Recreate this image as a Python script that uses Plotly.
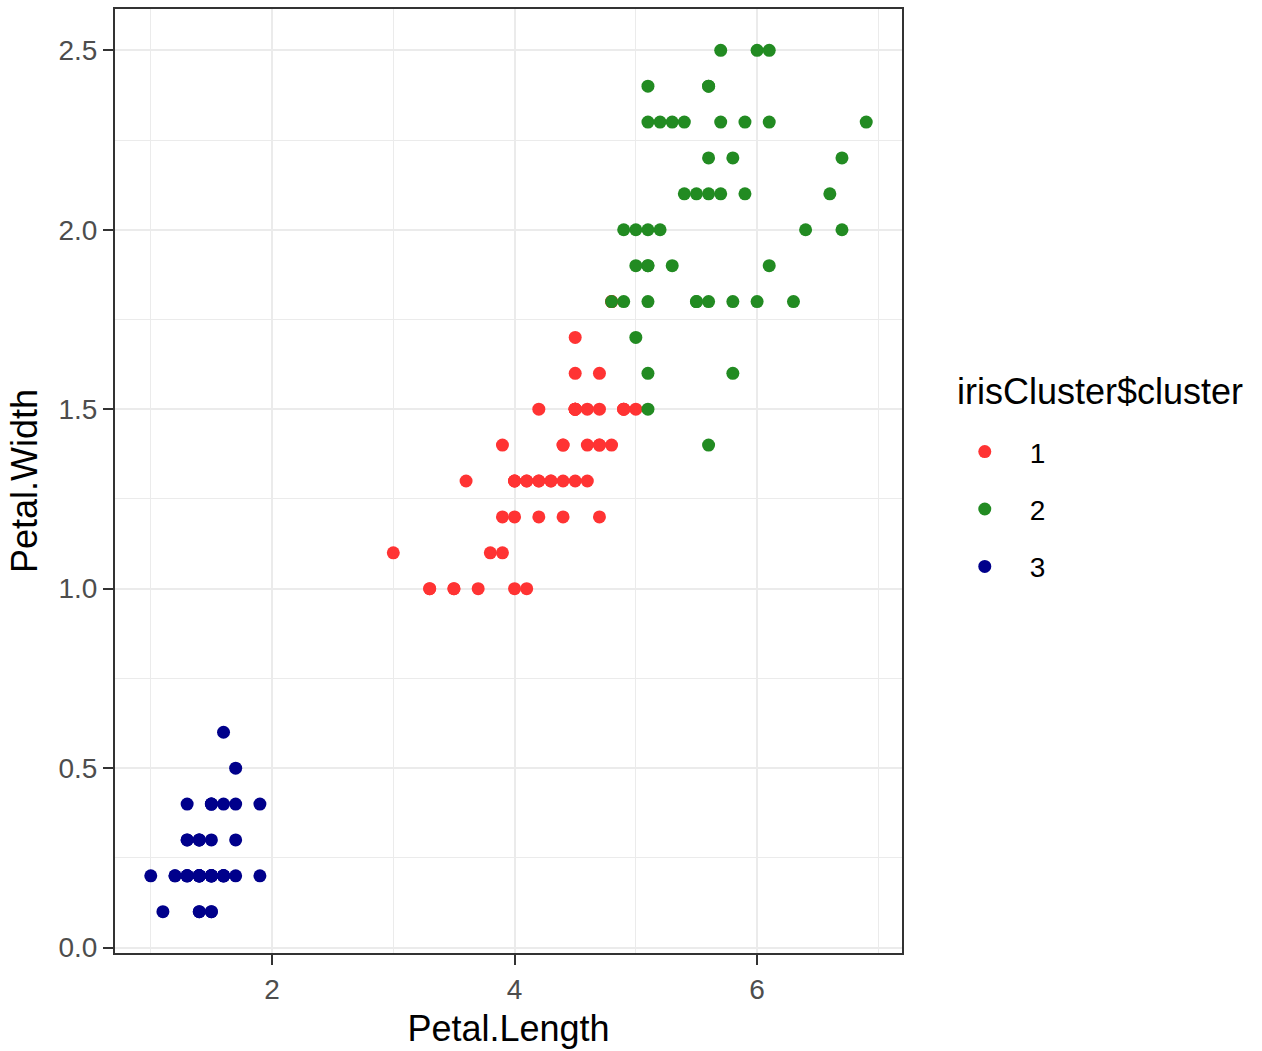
import plotly.graph_objects as go

# Cluster 1 (red)
c1_len = [4.7,4.5,4.9,4.0,4.6,4.5,4.7,3.3,4.6,3.9,3.5,4.2,4.0,4.7,3.6,4.4,4.5,4.1,4.5,3.9,
          4.8,4.0,4.9,4.7,4.3,4.4,4.8,4.5,3.5,3.8,3.7,3.9,4.5,4.5,4.7,4.4,4.1,4.0,4.4,4.6,
          4.0,3.3,4.2,4.2,4.2,4.3,3.0,4.1,4.5,5.0,4.8,4.9]
c1_wid = [1.4,1.5,1.5,1.3,1.5,1.3,1.6,1.0,1.3,1.4,1.0,1.5,1.0,1.4,1.3,1.4,1.5,1.0,1.5,1.1,
          1.8,1.3,1.5,1.2,1.3,1.4,1.4,1.5,1.0,1.1,1.0,1.2,1.5,1.6,1.5,1.3,1.3,1.3,1.2,1.4,
          1.2,1.0,1.3,1.2,1.3,1.3,1.1,1.3,1.7,1.5,1.8,1.5]
# Cluster 2 (green)
c2_len = [5.0,5.1,6.0,5.1,5.9,5.6,5.8,6.6,6.3,5.8,6.1,5.1,5.3,5.5,5.0,5.1,5.3,5.5,6.7,6.9,
          5.7,4.9,6.7,4.9,5.7,6.0,5.6,5.8,6.1,6.4,5.6,5.1,5.6,6.1,5.6,5.5,4.8,5.4,5.6,5.1,
          5.1,5.9,5.7,5.2,5.0,5.2,5.4,5.1]
c2_wid = [1.7,1.6,2.5,1.9,2.1,1.8,2.2,2.1,1.8,1.8,2.5,2.0,1.9,2.1,2.0,2.4,2.3,1.8,2.2,2.3,
          2.3,2.0,2.0,1.8,2.1,1.8,2.1,1.6,1.9,2.0,2.2,1.5,1.4,2.3,2.4,1.8,1.8,2.1,2.4,2.3,
          1.9,2.3,2.5,2.3,1.9,2.0,2.3,1.8]
# Cluster 3 (blue)
c3_len = [1.4,1.4,1.3,1.5,1.4,1.7,1.4,1.5,1.4,1.5,1.5,1.6,1.4,1.1,1.2,1.5,1.3,1.4,1.7,1.5,
          1.7,1.5,1.0,1.7,1.9,1.6,1.6,1.5,1.4,1.6,1.6,1.5,1.5,1.4,1.5,1.2,1.3,1.4,1.3,1.5,
          1.3,1.3,1.3,1.6,1.9,1.4,1.6,1.4,1.5,1.4]
c3_wid = [0.2,0.2,0.2,0.2,0.2,0.4,0.3,0.2,0.2,0.1,0.2,0.2,0.1,0.1,0.2,0.4,0.4,0.3,0.3,0.3,
          0.2,0.4,0.2,0.5,0.2,0.2,0.4,0.2,0.2,0.2,0.2,0.4,0.1,0.2,0.2,0.2,0.2,0.1,0.2,0.2,
          0.3,0.3,0.2,0.6,0.4,0.3,0.2,0.2,0.2,0.2]

clusters = ["1", "2", "3"]
colors = ["#FF3333", "#228B22", "#00008B"]
data = [(c1_len, c1_wid), (c2_len, c2_wid), (c3_len, c3_wid)]
legend_title = "irisCluster$cluster"

fig = go.Figure()
for name, col, (xs, ys) in zip(clusters, colors, data):
    fig.add_trace(go.Scatter(x=xs, y=ys, mode="markers", name=name, legendgroup=name,
                             marker=dict(color=col, size=13, line=dict(width=0))))

font = "Liberation Sans, Arial, sans-serif"
axis_common = dict(showgrid=True, gridcolor="#EBEBEB", gridwidth=2,
                   showline=True, linecolor="#333333", linewidth=2, mirror=True,
                   ticks="outside", ticklen=10, tickwidth=2, tickcolor="#333333",
                   zeroline=False, tickfont=dict(family=font, size=28, color="#4D4D4D"))

fig.update_layout(
    width=1262, height=1051,
    margin=dict(l=115, r=360, t=7, b=98),
    plot_bgcolor="white", paper_bgcolor="white",
    font=dict(family=font),
    xaxis=dict(range=[0.705, 7.195], tick0=0, dtick=2,
               minor=dict(tick0=0, dtick=1, showgrid=True, gridcolor="#EBEBEB", gridwidth=1, ticks=""),
               title=dict(text="Petal.Length", font=dict(family=font, size=36, color="black"), standoff=12),
               **axis_common),
    yaxis=dict(range=[-0.015, 2.615], tick0=0, dtick=0.5, tickformat=".1f",
               minor=dict(tick0=0, dtick=0.25, showgrid=True, gridcolor="#EBEBEB", gridwidth=1, ticks=""),
               title=dict(text="Petal.Width", font=dict(family=font, size=36, color="black"), standoff=10),
               **axis_common),
    legend=dict(x=1.048, xanchor="left", y=0.5573, yanchor="top",
                font=dict(family=font, size=28, color="black"),
                itemwidth=80, tracegroupgap=18, bgcolor="rgba(0,0,0,0)"),
    annotations=[dict(text=legend_title, xref="paper", yref="paper", x=1.0673, y=0.595,
                      xanchor="left", yanchor="middle", showarrow=False,
                      font=dict(family=font, size=36, color="black"))],
)

fig.write_html("out.html")
